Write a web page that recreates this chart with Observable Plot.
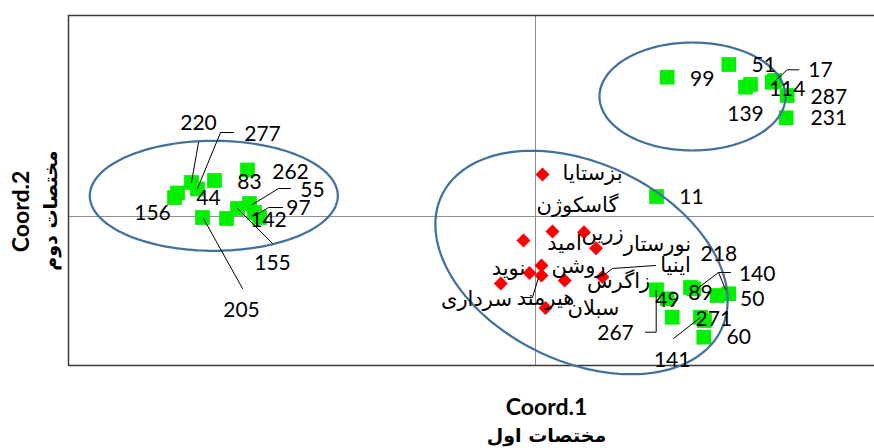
<!DOCTYPE html>
<html>
<head>
<meta charset="utf-8">
<script src="https://cdn.jsdelivr.net/npm/d3@7"></script>
<script src="https://cdn.jsdelivr.net/npm/@observablehq/plot@0.6"></script>
<style>
  html, body { margin: 0; padding: 0; background: #fff; }
  #chart svg { display: block; }
</style>
</head>
<body>
<div id="chart"></div>
<script>
// ---- axis domains (Coord.1, Coord.2) ----
const xDomain = [-4.67, 3.39];
const yDomain = [-1.49, 2.01];

// ---- accessions (green squares) ----
const accLabel = ["156","","220","277","44","83","205","262","155","55","97","142",
  "11","267","49","","89","218","50","140","141","271","60",
  "99","51","139","","114","17","287","231"];
const accX = [-3.61,-3.58,-3.44,-3.38,-3.21,-2.88,-3.33,-3.09,-2.98,-2.86,-2.81,-2.76,
  1.21,1.21,1.317,1.367,1.583,1.55,1.817,1.933,1.65,1.69,1.683,
  1.317,1.933,2.10,2.15,2.367,2.39,2.517,2.507];
const accY = [0.19,0.235,0.34,0.275,0.36,0.465,-0.01,-0.02,0.08,0.13,0.04,-0.01,
  0.20,-0.733,-0.823,-1.007,-0.723,-0.71,-0.79,-0.773,-1.007,-1.04,-1.207,
  1.393,1.52,1.293,1.32,1.343,1.36,1.21,0.987];
const accLabelX = [-3.83,null,-3.37,-2.73,-3.27,-2.86,-2.94,-2.45,-2.63,-2.23,-2.37,-2.67,
  1.56,0.80,1.32,null,1.65,1.833,2.167,2.217,1.367,1.783,2.033,
  1.667,2.283,2.10,null,2.517,2.85,2.933,2.933];
const accLabelY = [0.03,null,0.93,0.82,0.18,0.34,-0.94,0.44,-0.47,0.26,0.08,-0.04,
  0.19,-1.167,-0.84,null,-0.765,-0.373,-0.823,-0.573,-1.44,-1.023,-1.207,
  1.377,1.51,1.02,null,1.277,1.46,1.193,0.987];

// ---- cultivars (red diamonds) ----
const cvName = ["بزستایا","گاسکوژن","امید","زرین","نورستار","روشن","سرداری","هیرمند","نوید","زاگرس","اینیا","سبلان"];
const cvX = [0.07,-0.12,0.17,0.485,0.605,0.06,-0.06,0.06,-0.347,0.292,0.67,0.10];
const cvY = [0.42,-0.24,-0.15,-0.157,-0.317,-0.49,-0.565,-0.59,-0.67,-0.64,-0.605,-0.915];
const cvLabelX = [0.57,0.42,0.29,0.67,1.22,0.43,-0.59,0.10,-0.27,0.83,1.40,0.58];
const cvLabelY = [0.43,0.11,-0.27,-0.17,-0.28,-0.50,-0.83,-0.82,-0.52,-0.65,-0.49,-0.92];

// ---- leader lines (label connectors) ----
const leaders = [
  [[-3.37,0.74],[-3.44,0.34]],
  [[-3.02,0.84],[-3.15,0.84],[-3.38,0.28]],
  [[-2.45,0.28],[-2.57,0.28],[-2.83,0.12]],
  [[-2.53,0.09],[-2.67,0.09],[-2.80,0.01]],
  [[-2.98,0.08],[-2.63,-0.27]],
  [[-3.32,-0.02],[-2.93,-0.72]],
  [[0.03,-0.61],[-0.03,-0.81],[-0.13,-0.81]],
  [[0.68,-0.59],[0.77,-0.52],[1.20,-0.49]],
  [[1.207,-0.74],[1.207,-1.157],[1.10,-1.157]],
  [[1.62,-0.72],[1.83,-0.56]],
  [[1.95,-0.56],[1.83,-0.56],[1.90,-0.73]],
  [[1.65,-1.01],[1.38,-1.22]],
  [[2.40,1.36],[2.517,1.467],[2.633,1.467]]
];

// ---- group ellipses ----
const ellCX = [-3.217, 1.57, 0.46];
const ellCY = [0.207, 1.20, -0.46];
const ellRX = [1.24, 0.93, 1.55];
const ellRY = [0.55, 0.54, 0.99];
const ellAngle = [0, 0, -25.7];

// ---- titles ----
const xTitle = ["Coord.1", "مختصات اول"];
const yTitle = ["Coord.2", "مختصات دوم"];

// build tables
const acc = accLabel.map((l, i) => ({label: l, x: accX[i], y: accY[i], lx: accLabelX[i], ly: accLabelY[i]}));
const cv = cvName.map((n, i) => ({label: n, x: cvX[i], y: cvY[i], lx: cvLabelX[i], ly: cvLabelY[i]}));
const leaderPts = leaders.flatMap((pl, k) => pl.map(([x, y]) => ({k, x, y})));
const ellPts = ellCX.flatMap((cx, k) => {
  const th = ellAngle[k] * Math.PI / 180;
  return d3.range(0, 361, 2).map(deg => {
    const t = deg * Math.PI / 180;
    const a = ellRX[k] * Math.cos(t), b = ellRY[k] * Math.sin(t);
    return {k, x: cx + a * Math.cos(th) - b * Math.sin(th), y: ellCY[k] + a * Math.sin(th) + b * Math.cos(th)};
  });
});

const latin = "Lato, 'Open Sans', sans-serif";
const arabic = "'DejaVu Sans', sans-serif";

const chart = Plot.plot({
  width: 874,
  height: 448,
  marginLeft: 68,
  marginRight: 0,
  marginTop: 15,
  marginBottom: 83,
  x: {domain: xDomain, axis: null},
  y: {domain: yDomain, axis: null},
  style: {background: "#fff", overflow: "visible"},
  marks: [
    Plot.ruleX([0], {stroke: "#8c8c8c", strokeWidth: 1}),
    Plot.ruleY([0], {stroke: "#8c8c8c", strokeWidth: 1}),
    Plot.ruleY(yDomain, {stroke: "#3a3a3a", strokeWidth: 1.5}),
    Plot.ruleX([xDomain[0]], {stroke: "#3a3a3a", strokeWidth: 1.5}),
    Plot.dot(acc, {x: "x", y: "y", symbol: "square", r: 8.3, fill: "#00f000", stroke: "none"}),
    Plot.dot(cv, {x: "x", y: "y", symbol: "diamond2", r: 6.3, fill: "#ff0000", stroke: "none"}),
    Plot.line(ellPts, {x: "x", y: "y", z: "k", stroke: "#41719c", strokeWidth: 2.25, curve: "linear"}),
    Plot.line(leaderPts, {x: "x", y: "y", z: "k", stroke: "#000", strokeWidth: 1}),
    Plot.text(acc.filter(d => d.label), {x: "lx", y: "ly", text: "label", fontSize: 21, fontFamily: latin, fill: "#000", lineAnchor: "middle", textAnchor: "middle"}),
    Plot.text(cv, {x: "lx", y: "ly", text: "label", fontSize: 21, fontFamily: arabic, fill: "#000", lineAnchor: "middle", textAnchor: "middle"}),
    Plot.text([xTitle[0]], {frameAnchor: "bottom", dx: 75, dy: 42, fontSize: 23, fontWeight: "bold", fontFamily: latin, fill: "#000", lineAnchor: "middle"}),
    Plot.text([xTitle[1]], {frameAnchor: "bottom", dx: 75, dy: 70, fontSize: 19, fontWeight: "bold", fontFamily: arabic, fill: "#000", lineAnchor: "middle"}),
    Plot.text([yTitle[0]], {frameAnchor: "left", dx: -47, dy: 21, rotate: -90, fontSize: 23, fontWeight: "bold", fontFamily: latin, fill: "#000", lineAnchor: "middle", textAnchor: "middle"}),
    Plot.text([yTitle[1]], {frameAnchor: "left", dx: -18, dy: 20, rotate: -90, fontSize: 19, fontWeight: "bold", fontFamily: arabic, fill: "#000", lineAnchor: "middle", textAnchor: "middle"})
  ]
});
document.getElementById("chart").appendChild(chart);
</script>
</body>
</html>
